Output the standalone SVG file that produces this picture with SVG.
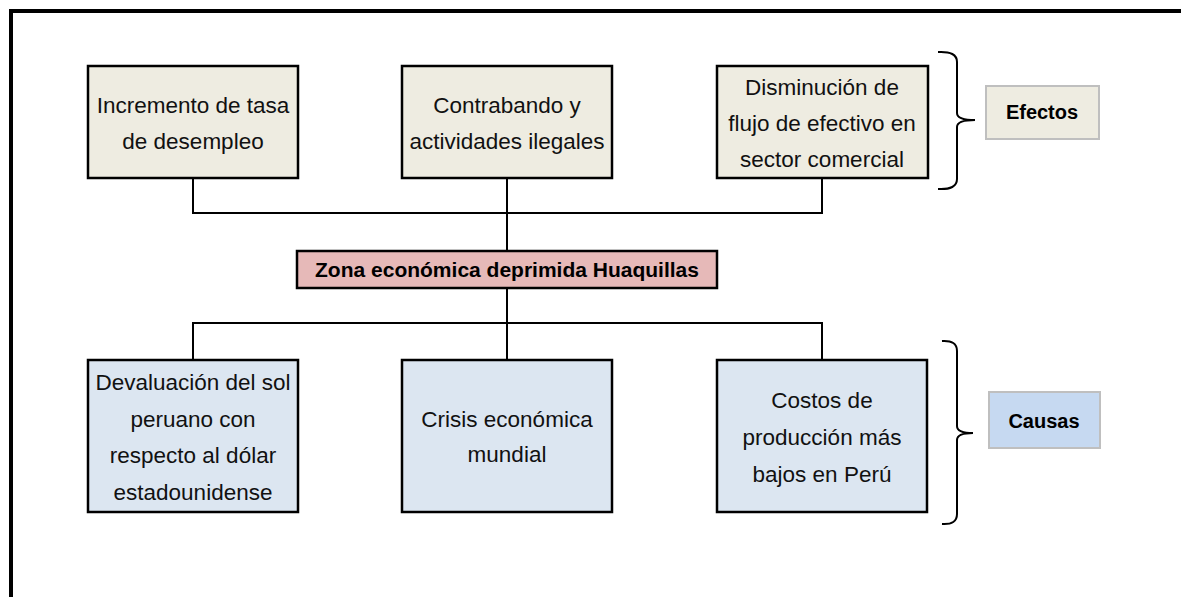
<svg xmlns="http://www.w3.org/2000/svg" width="1181" height="597" viewBox="0 0 1181 597">
<style>
.t{font-family:"Liberation Sans",Arial,sans-serif;font-size:22.5px;fill:#111;text-anchor:middle}
.b{font-family:"Liberation Sans",Arial,sans-serif;font-size:20px;font-weight:bold;fill:#000;text-anchor:middle}
.eff{fill:#EEECE1;stroke:#000;stroke-width:2.5}
.cau{fill:#DCE6F1;stroke:#000;stroke-width:2.5}
.ln{fill:none;stroke:#000;stroke-width:2}
.lab{stroke:#BFBFBF;stroke-width:2}
</style>
<rect x="0" y="0" width="1181" height="597" fill="#fff"/>
<rect x="11" y="11" width="1200" height="700" fill="none" stroke="#000" stroke-width="4"/>
<g id="connectors">
<path class="ln" d="M193,178 V213 H822 V178"/>
<path class="ln" d="M507,178 V251"/>
<path class="ln" d="M507,288 V360"/>
<path class="ln" d="M193,360 V323 H822 V360"/>
<path class="ln" d="M938,52 Q957,51 957,62 V113 Q957,120 975,120 Q957,120 957,127 V179 Q957,190 938,189"/>
<path class="ln" d="M942,341 Q957,340 957,351 V426 Q957,433 973,433 Q957,433 957,440 V514 Q957,525 942,524"/>
</g>
<g id="n1"><rect class="eff" x="88" y="66" width="210" height="112"/>
<text class="t" x="193" y="113">Incremento de tasa</text><text class="t" x="193" y="149">de desempleo</text></g>
<g id="n2"><rect class="eff" x="402" y="66" width="210" height="112"/>
<text class="t" x="507" y="113">Contrabando y</text><text class="t" x="507" y="149">actividades ilegales</text></g>
<g id="n3"><rect class="eff" x="717" y="66" width="211" height="112"/>
<text class="t" x="822" y="95">Disminución de</text><text class="t" x="822" y="131">flujo de efectivo en</text><text class="t" x="822" y="167">sector comercial</text></g>
<g id="center"><rect x="297" y="251" width="420" height="37" fill="#E6B9B8" stroke="#000" stroke-width="2.5"/>
<text class="b" x="507" y="277" style="font-size:21px">Zona económica deprimida Huaquillas</text></g>
<g id="n4"><rect class="cau" x="88" y="360" width="210" height="152"/>
<text class="t" x="193" y="390">Devaluación del sol</text><text class="t" x="193" y="427">peruano con</text><text class="t" x="193" y="463">respecto al dólar</text><text class="t" x="193" y="500">estadounidense</text></g>
<g id="n5"><rect class="cau" x="402" y="360" width="210" height="152"/>
<text class="t" x="507" y="427">Crisis económica</text><text class="t" x="507" y="462">mundial</text></g>
<g id="n6"><rect class="cau" x="717" y="360" width="210" height="152"/>
<text class="t" x="822" y="408">Costos de</text><text class="t" x="822" y="445">producción más</text><text class="t" x="822" y="482">bajos en Perú</text></g>
<g id="efectos"><rect class="lab" x="986" y="86" width="113" height="53" fill="#EEECE1"/>
<text class="b" x="1042" y="119">Efectos</text></g>
<g id="causas"><rect class="lab" x="989" y="392" width="111" height="56" fill="#C6D9F1"/>
<text class="b" x="1044" y="428">Causas</text></g>
</svg>
